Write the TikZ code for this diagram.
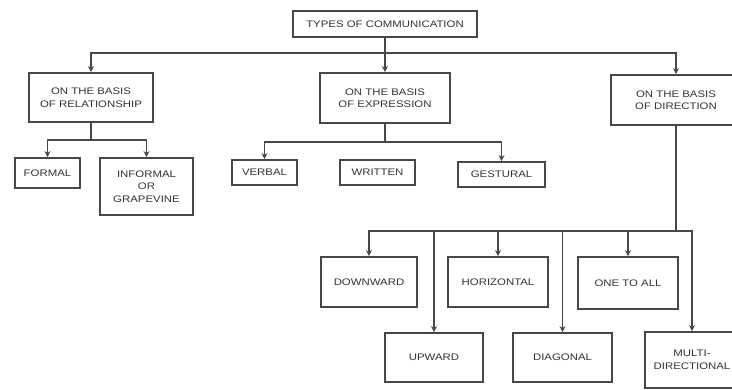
\documentclass[tikz,border=0pt]{standalone}
\usepackage{fontspec}
\setmainfont{Liberation Sans}
\newfontfamily\boxfont[FakeStretch=1.2]{Liberation Sans}
\usetikzlibrary{arrows.meta}
\begin{document}
\begin{tikzpicture}[x=1pt,y=-1pt,
  box/.style={draw=black!72, line width=1.9pt, fill=white, inner sep=0pt,
    align=center, text=black!80, font=\boxfont\fontsize{9.5}{12.5}\selectfont},
  conn/.style={draw=black!72, line width=1.7pt},
  arr/.style={conn, -{Stealth[length=6pt,width=6pt]}}]
\useasboundingbox (0,0) rectangle (732,390);
\clip (0,0) rectangle (732,390);
% top level
\node[box, minimum width=184, minimum height=26] (title) at (385,24) {TYPES OF COMMUNICATION};
\node[box, minimum width=124, minimum height=49] (rel) at (91,97.5) {ON THE BASIS\\OF RELATIONSHIP};
\node[box, minimum width=130, minimum height=50] (expr) at (385,98) {ON THE BASIS\\OF EXPRESSION};
\node[box, minimum width=130, minimum height=50] (dir) at (676,100) {ON THE BASIS\\OF DIRECTION};
% relationship
\node[box, minimum width=65, minimum height=30] (formal) at (47.5,173) {FORMAL};
\node[box, minimum width=93, minimum height=57] (informal) at (146.5,186.5) {INFORMAL\\OR\\GRAPEVINE};
% expression
\node[box, minimum width=65, minimum height=25] (verbal) at (264.5,172.5) {VERBAL};
\node[box, minimum width=75, minimum height=25] (written) at (377.5,172.5) {WRITTEN};
\node[box, minimum width=87, minimum height=25] (gestural) at (501.5,174.5) {GESTURAL};
% direction
\node[box, minimum width=96, minimum height=50] (down) at (369,282) {DOWNWARD};
\node[box, minimum width=100, minimum height=50] (horiz) at (498,282) {HORIZONTAL};
\node[box, minimum width=100, minimum height=52] (onetoall) at (628,283) {ONE TO ALL};
\node[box, minimum width=98, minimum height=49] (up) at (434,357.5) {UPWARD};
\node[box, minimum width=99, minimum height=49] (diag) at (562.5,357.5) {DIAGONAL};
\node[box, minimum width=94, minimum height=56] (multi) at (692,360) {MULTI-\\DIRECTIONAL};
% connectors: level 1
\coordinate (b0) at (385,53);
\draw[conn] (title.south) -- (b0);
\draw[arr] (b0) -| (rel);
\draw[arr] (b0) -- (expr);
\draw[arr] (b0) -| (dir);
% relationship
\coordinate (b1) at (91,140);
\draw[conn] (rel.south) -- (b1);
\draw[arr] (b1) -| (formal);
\draw[arr] (b1) -| (informal);
% expression
\coordinate (b2) at (385,142);
\draw[conn] (expr.south) -- (b2);
\draw[arr] (b2) -| (verbal);
\draw[arr] (b2) -| (gestural);
% direction
\coordinate (b3) at (676,231);
\draw[conn] (dir.south) -- (b3);
\draw[arr] (b3) -| (down);
\draw[arr] (b3) -| (up);
\draw[arr] (b3) -| (horiz);
\draw[arr] (b3) -| (diag);
\draw[arr] (b3) -| (onetoall);
\draw[arr] (b3) -| (multi);
\end{tikzpicture}
\end{document}
